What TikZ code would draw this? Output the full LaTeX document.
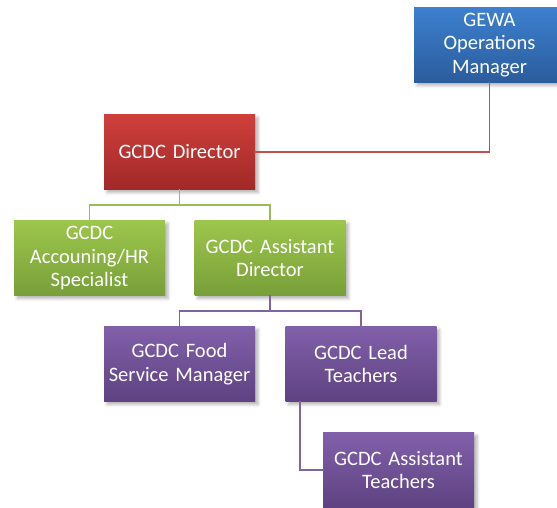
\documentclass[tikz,border=0pt]{standalone}
\usepackage{fontspec}
\setmainfont{Carlito}
\usetikzlibrary{shadows.blur}

% fill gradients (top / bottom) and connector colours
\definecolor{blueTop}{HTML}{3D80CF}
\definecolor{blueBot}{HTML}{2B5C9C}
\definecolor{redTop}{HTML}{CF3F3C}
\definecolor{redBot}{HTML}{A02928}
\definecolor{greenTop}{HTML}{9DC64C}
\definecolor{greenBot}{HTML}{789F39}
\definecolor{purpleTop}{HTML}{8160AA}
\definecolor{purpleBot}{HTML}{5E4281}
\definecolor{redLine}{HTML}{C0504D}
\definecolor{greenLine}{HTML}{9BBB59}
\definecolor{purpleLine}{HTML}{8064A2}

\begin{document}
\begin{tikzpicture}[x=1pt, y=-1pt,
  box/.style={rectangle, inner sep=0pt,
    minimum width=151pt, minimum height=75pt, text width=147pt,
    align=center, text=white,
    font=\fontsize{20.5}{23.3}\selectfont,
    blur shadow={shadow xshift=3pt, shadow yshift=-3pt,
                 shadow blur radius=3pt, shadow opacity=30}},
  bluebox/.style={box, top color=blueTop, bottom color=blueBot},
  redbox/.style={box, top color=redTop, bottom color=redBot},
  greenbox/.style={box, top color=greenTop, bottom color=greenBot},
  purplebox/.style={box, top color=purpleTop, bottom color=purpleBot},
  link/.style={line width=1.8pt, line cap=rect}
]
\useasboundingbox (0,0) rectangle (557,508);

% boxes
\node[bluebox]   (gewa) at (489.5,45)  {GEWA\\Operations\\Manager};
\node[redbox]    (dir)  at (179.5,152) {GCDC Director};
\node[greenbox]  (acc)  at (89.5,258)  {GCDC\\Accouning/HR\\Specialist};
\node[greenbox]  (asd)  at (270,258)   {GCDC Assistant\\Director};
\node[purplebox] (food) at (179.5,364) {GCDC Food\\Service Manager};
\node[purplebox] (lead) at (361,364)   {GCDC Lead\\Teachers};
\node[purplebox] (ast)  at (398.5,470) {GCDC Assistant\\Teachers};

% connectors
\draw[link, redLine] (dir.east) -| (gewa.south);
\draw[link, greenLine] (dir.south) -- +(0,15) -| (acc.north);
\draw[link, greenLine] (dir.south) -- +(0,15) -| (asd.north);
\draw[link, purpleLine] (asd.south) -- +(0,15) -| (food.north);
\draw[link, purpleLine] (asd.south) -- +(0,15) -| (lead.north);
\coordinate (leadfoot) at ([xshift=15pt]lead.south west);
\draw[link, purpleLine] (leadfoot) |- (ast.west);
\end{tikzpicture}
\end{document}
